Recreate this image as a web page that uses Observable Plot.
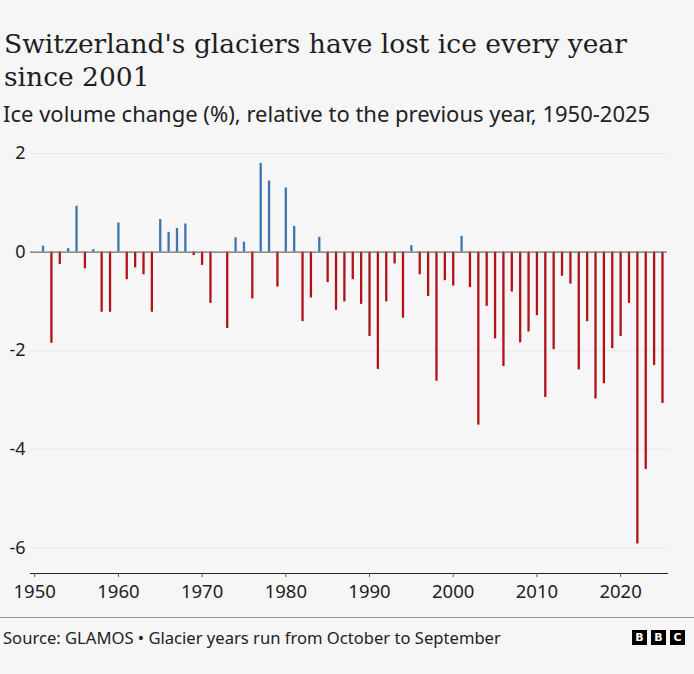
<!DOCTYPE html>
<html>
<head>
<meta charset="utf-8">
<script src="https://cdn.jsdelivr.net/npm/d3@7"></script>
<script src="https://cdn.jsdelivr.net/npm/@observablehq/plot@0.6"></script>
<style>
  html, body { margin: 0; padding: 0; background: #f6f6f6; }
  body { width: 694px; height: 674px; position: relative; overflow: hidden; font-family: "Noto Sans", sans-serif; color: #222; }
  #title { position: absolute; left: 4px; top: 27px; width: 690px; font-family: "DejaVu Serif", serif; font-size: 26.5px; line-height: 33px; color: #1e1e1e; white-space: nowrap; }
  #subtitle { position: absolute; left: 3px; top: 100px; font-size: 22px; line-height: 27px; color: #222; white-space: nowrap; }
  #chart { position: absolute; left: 0; top: 140px; }
  #rule { position: absolute; left: 0; top: 617px; width: 694px; height: 0; border-top: 1px solid #9a9a9a; }
  #source { position: absolute; left: 3px; top: 627px; font-size: 16.6px; line-height: 22px; color: #222; white-space: nowrap; }
  #logo { position: absolute; left: 632px; top: 630px; display: flex; gap: 4px; }
  #logo span { width: 15px; height: 15px; background: #000; color: #fff; font-family: "DejaVu Sans", sans-serif; font-weight: bold; font-size: 11px; line-height: 15px; text-align: center; display: block; }
</style>
</head>
<body>
<div id="title">Switzerland's glaciers have lost ice every year<br>since 2001</div>
<div id="subtitle">Ice volume change (%), relative to the previous year, 1950-2025</div>
<div id="chart"></div>
<div id="rule"></div>
<div id="source">Source: GLAMOS • Glacier years run from October to September</div>
<div id="logo"><span>B</span><span>B</span><span>C</span></div>
<script>
const years = [1951,1952,1953,1954,1955,1956,1957,1958,1959,1960,
  1961,1962,1963,1964,1965,1966,1967,1968,1969,1970,
  1971,1972,1973,1974,1975,1976,1977,1978,1979,1980,
  1981,1982,1983,1984,1985,1986,1987,1988,1989,1990,
  1991,1992,1993,1994,1995,1996,1997,1998,1999,2000,
  2001,2002,2003,2004,2005,2006,2007,2008,2009,2010,
  2011,2012,2013,2014,2015,2016,2017,2018,2019,2020,
  2021,2022,2023,2024,2025];
const changes = [0.12,-1.85,-0.25,0.07,0.93,-0.34,0.05,-1.22,-1.22,0.59,
  -0.56,-0.32,-0.46,-1.22,0.66,0.40,0.48,0.57,-0.07,-0.27,
  -1.04,0,-1.55,0.29,0.20,-0.95,1.80,1.44,-0.71,1.30,
  0.52,-1.41,-0.93,0.30,-0.62,-1.18,-1.01,-0.56,-1.06,-1.71,
  -2.38,-1.01,-0.24,-1.34,0.13,-0.46,-0.90,-2.62,-0.58,-0.69,
  0.32,-0.72,-3.51,-1.10,-1.76,-2.32,-0.81,-1.84,-1.62,-1.29,
  -2.95,-1.98,-0.49,-0.65,-2.39,-1.41,-2.98,-2.67,-1.96,-1.71,
  -1.04,-5.92,-4.41,-2.30,-3.07];
const xTicks = [1950,1960,1970,1980,1990,2000,2010,2020];
const yTicks = [2,0,-2,-4,-6];
const gridValues = [2,-2,-4,-6];
const gainColor = "#3b76ae";
const lossColor = "#b01218";

const data = years.map((year, i) => ({year, value: changes[i]}));

const chart = Plot.plot({
  width: 694,
  height: 465,
  marginLeft: 30,
  marginRight: 27,
  marginTop: 13,
  marginBottom: 32,
  style: {background: "transparent", fontFamily: "Noto Sans, sans-serif", fontSize: "18px", color: "#222"},
  x: {domain: [1949.5, 2025.6], label: null},
  y: {domain: [-6.52, 2], label: null},
  marks: [
    Plot.ruleY(gridValues, {stroke: "#e8e8e8", strokeWidth: 1}),
    Plot.ruleX(data, {x: "year", y1: 0, y2: "value", stroke: d => d.value >= 0 ? gainColor : lossColor, strokeWidth: 2.3}),
    Plot.ruleY([0], {stroke: "#6e6e6e", strokeWidth: 1.3}),
    Plot.frame({anchor: "bottom", stroke: "#222", strokeWidth: 1}),
    Plot.axisX({ticks: xTicks, tickFormat: d => String(d), tickSize: 4, tickPadding: 7, stroke: "#555", fontSize: 18.5, label: null}),
    Plot.axisY({ticks: yTicks, tickFormat: d => String(d), tickSize: 0, tickPadding: 5, fontSize: 18, label: null})
  ]
});
document.getElementById("chart").appendChild(chart);
</script>
</body>
</html>
